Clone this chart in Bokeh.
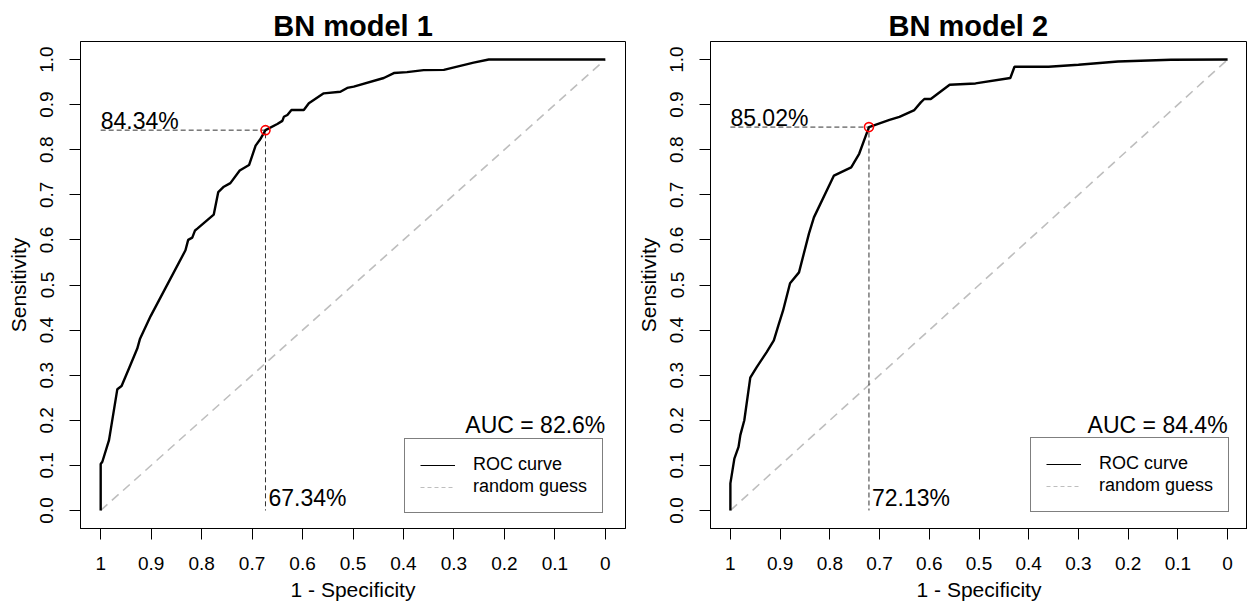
from bokeh.plotting import figure
from bokeh.models import Range1d, FixedTicker, Legend, LegendItem
from bokeh.layouts import row
from bokeh.embed import file_html
from bokeh.resources import INLINE
from bokeh.core.properties import value

# ---------------- data ----------------
titles = ["BN model 1", "BN model 2"]

m1_spec = [1.000, 1.000, 0.9967, 0.9835, 0.967, 0.9586, 0.944, 0.9275, 0.922, 0.901,
           0.8845, 0.832, 0.8266, 0.8185, 0.813, 0.8085, 0.776, 0.767, 0.756, 0.743,
           0.7245, 0.706, 0.693, 0.6845, 0.6734, 0.650, 0.640, 0.637, 0.630, 0.622,
           0.5975, 0.5875, 0.558, 0.525, 0.5115, 0.4985, 0.439, 0.419, 0.393, 0.360,
           0.320, 0.261, 0.231, 0.000]
m1_sens = [0.000, 0.103, 0.108, 0.156, 0.269, 0.276, 0.315, 0.359, 0.381, 0.431,
           0.466, 0.577, 0.600, 0.605, 0.621, 0.625, 0.656, 0.706, 0.718, 0.726,
           0.754, 0.766, 0.809, 0.822, 0.8434, 0.857, 0.864, 0.873, 0.877, 0.888,
           0.888, 0.903, 0.925, 0.9285, 0.937, 0.940, 0.959, 0.970, 0.972, 0.9765,
           0.977, 0.993, 1.000, 1.000]

m2_spec = [1.000, 1.000, 0.992, 0.9836, 0.980, 0.972, 0.960, 0.947, 0.927, 0.9126,
           0.9036, 0.894, 0.880, 0.862, 0.842, 0.832, 0.7917, 0.757, 0.741, 0.7213,
           0.680, 0.660, 0.630, 0.617, 0.610, 0.597, 0.559, 0.507, 0.437, 0.4286,
           0.360, 0.300, 0.2205, 0.114, 0.000]
m2_sens = [0.000, 0.060, 0.115, 0.141, 0.167, 0.200, 0.2946, 0.318, 0.351, 0.377,
           0.410, 0.4436, 0.504, 0.528, 0.614, 0.650, 0.7427, 0.761, 0.791, 0.8502,
           0.866, 0.873, 0.888, 0.905, 0.9125, 0.9125, 0.944, 0.947, 0.959, 0.984,
           0.984, 0.9885, 0.9958, 0.9996, 1.000]

cut_spec = [0.6734, 0.7213]
cut_sens = [0.8434, 0.8502]
auc = [82.6, 84.4]

diag_x = [1.0, 0.0]
diag_y = [0.0, 1.0]

x_ticks = [1.0, 0.9, 0.8, 0.7, 0.6, 0.5, 0.4, 0.3, 0.2, 0.1, 0.0]
x_tick_labels = ["1", "0.9", "0.8", "0.7", "0.6", "0.5", "0.4", "0.3", "0.2", "0.1", "0"]
y_ticks = [0.0, 0.1, 0.2, 0.3, 0.4, 0.5, 0.6, 0.7, 0.8, 0.9, 1.0]
y_tick_labels = ["0.0", "0.1", "0.2", "0.3", "0.4", "0.5", "0.6", "0.7", "0.8", "0.9", "1.0"]

legend_labels = ["ROC curve", "random guess"]

FONT = "Liberation Sans"


def make_panel(title, spec, sens, cspec, csens, auc_val, width,
               border_left, border_right, title_align, title_offset, legend_loc):
    p = figure(width=width, height=603, output_backend="svg", toolbar_location=None,
               x_range=Range1d(1.04, -0.04), y_range=Range1d(-0.04, 1.04),
               min_border_left=border_left, min_border_right=border_right,
               min_border_top=41, min_border_bottom=75)
    p.grid.visible = False
    p.background_fill_color = "white"
    p.border_fill_color = "white"
    p.outline_line_color = "black"
    p.outline_line_width = 1
    p.outline_line_alpha = 1

    p.title.text = title
    p.title.text_font = FONT
    p.title.text_font_size = "29px"
    p.title.text_font_style = "bold"
    p.title.align = title_align
    p.title.offset = title_offset
    p.title.standoff = 0
    p.title.text_color = "black"

    # random guess diagonal
    p.line(diag_x, diag_y, line_color="#BEBEBE", line_width=1.6, line_dash="9 6")
    # cut-off guide lines
    p.line([1.0, cspec, cspec], [csens, csens, 0.0], line_color="#333333",
           line_width=1, line_dash="5 3")
    # ROC curve
    p.line(spec, sens, line_color="black", line_width=2.4)
    # cut-off point
    p.scatter([cspec], [csens], marker="circle", size=9, fill_color=None,
              line_color="red", line_width=1.6)

    p.text(x=[1.0], y=[csens + 0.021], text=[f"{csens*100:.2f}%"],
           text_font=value(FONT), text_font_size="23px", text_align="left",
           text_baseline="alphabetic", text_color="black")
    p.text(x=[cspec], y=[0.028], text=[f"{cspec*100:.2f}%"], x_offset=3,
           text_font=value(FONT), text_font_size="23px", text_align="left",
           text_baseline="alphabetic", text_color="black")
    p.text(x=[0.0], y=[0.19], text=[f"AUC = {auc_val}%"],
           text_font=value(FONT), text_font_size="23px", text_align="right",
           text_baseline="alphabetic", text_color="black")

    # legend proxies (single-point lines draw nothing on the plot)
    r1 = p.line([diag_x[0]], [diag_y[0]], line_color="black", line_width=1)
    r2 = p.line([diag_x[0]], [diag_y[0]], line_color="#BEBEBE", line_width=1,
                line_dash="4 3")
    legend = Legend(items=[LegendItem(label=legend_labels[0], renderers=[r1]),
                           LegendItem(label=legend_labels[1], renderers=[r2])],
                    location=legend_loc, margin=0, padding=15, spacing=1,
                    glyph_width=35, glyph_height=20, label_height=20,
                    label_standoff=18, border_line_color="black",
                    border_line_width=1, background_fill_alpha=1,
                    label_text_font=FONT, label_text_font_size="18px",
                    label_text_color="black")
    p.add_layout(legend)

    xa = p.xaxis[0]
    xa.ticker = FixedTicker(ticks=x_ticks)
    xa.major_label_overrides = dict(zip(x_ticks, x_tick_labels))
    xa.axis_label = "1 - Specificity"
    ya = p.yaxis[0]
    ya.ticker = FixedTicker(ticks=y_ticks)
    ya.major_label_overrides = dict(zip(y_ticks, y_tick_labels))
    ya.axis_label = "Sensitivity"
    ya.major_label_orientation = "vertical"
    for ax in (xa, ya):
        ax.axis_line_color = "black"
        ax.major_tick_line_color = "black"
        ax.major_tick_out = 11
        ax.major_tick_in = 0
        ax.minor_tick_line_color = None
        ax.major_label_text_font = FONT
        ax.major_label_text_font_size = "19px"
        ax.major_label_text_color = "black"
        ax.axis_label_text_font = FONT
        ax.axis_label_text_font_size = "21px"
        ax.axis_label_text_font_style = "normal"
        ax.axis_label_text_color = "black"
    xa.major_label_standoff = 17
    xa.axis_label_standoff = 5
    ya.major_label_standoff = 16
    ya.axis_label_standoff = 8
    return p


p1 = make_panel(titles[0], m1_spec, m1_sens, cut_spec[0], cut_sens[0], auc[0],
                633, 80, 8, "center", 0, (324, 15))
p2 = make_panel(titles[1], m2_spec, m2_sens, cut_spec[1], cut_sens[1], auc[1],
                614, 74, 0, "left", 178, (320, 16))

layout = row(p1, p2)
open("out.html", "w").write(file_html(layout, INLINE))
